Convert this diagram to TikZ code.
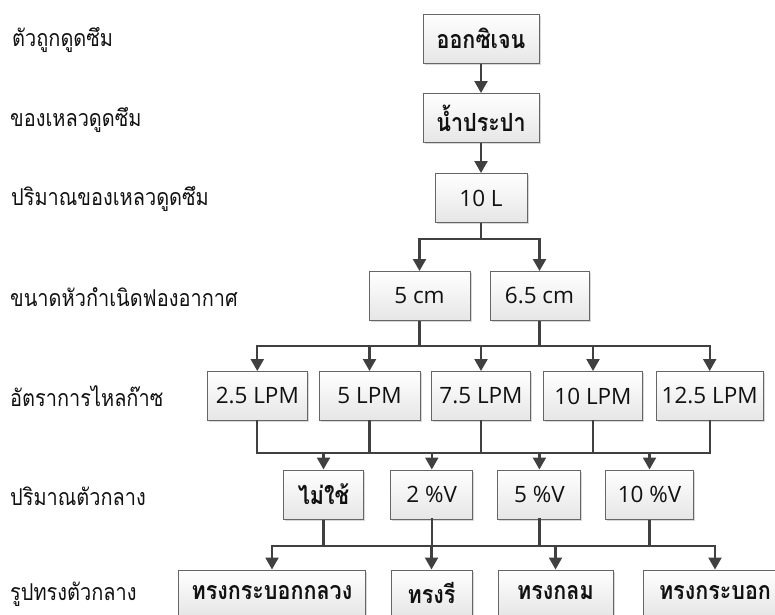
\documentclass[tikz,border=0pt]{standalone}
\usepackage{fontspec}
\setmainfont{Open Sans}
\newfontfamily\thaifont[Script=Thai,FakeStretch=0.86]{Loma}
\usetikzlibrary{arrows.meta,shadows}
\definecolor{linec}{HTML}{404040}
\definecolor{boxb}{HTML}{666666}
\definecolor{boxf}{HTML}{E6E6E6}
\definecolor{txt}{HTML}{111111}
\tikzset{
 box/.style={draw=boxb, line width=1pt, top color=white, bottom color=boxf,
   minimum height=49pt, inner sep=0pt, text=txt,
   drop shadow={shadow xshift=1.5pt, shadow yshift=-1.5pt, fill=black!30, opacity=0.5}},
 lab/.style={anchor=west, inner sep=0pt, text=txt, font=\thaifont\fontsize{23.2}{23.2}\selectfont},
 conn/.style={draw=linec, line width=2.2pt, line cap=rect},
 arr/.style={draw=linec, line width=2.2pt, -{Triangle[width=13pt,length=12pt]}},
 lt/.style={font=\fontsize{22.5}{22.5}\selectfont},
 tb/.style={font=\thaifont\bfseries\fontsize{25}{25}\selectfont},
 lastrow/.style={minimum height=46pt},
}
\begin{document}
\begin{tikzpicture}[x=1pt,y=-1pt]
\useasboundingbox (0,0) rectangle (775,614);
% left labels
\node[lab] (l1) at (12,40) {ตัวถูกดูดซึม};
\node[lab] (l2) at (10,120) {ของเหลวดูดซึม};
\node[lab] (l3) at (11,199) {ปริมาณของเหลวดูดซึม};
\node[lab] (l4) at (10,297) {ขนาดหัวกำเนิดฟองอากาศ};
\node[lab] (l5) at (10,396) {อัตราการไหลก๊าซ};
\node[lab] (l6) at (10,496) {ปริมาณตัวกลาง};
\node[lab] (l7) at (10,594) {รูปทรงตัวกลาง};
% row 1-3
\node[box,tb,minimum width=116pt] (n1) at (481,38.5) {ออกซิเจน};
\node[box,tb,minimum width=116pt] (n2) at (481,118) {น้ำประปา};
\node[box,lt,minimum width=92pt] (n3) at (481,198) {10 L};
% row 4
\node[box,lt,minimum width=101pt] (n4a) at (419.5,296) {5 cm};
\node[box,lt,minimum width=99pt] (n4b) at (539.5,296) {6.5 cm};
% row 5
\node[box,lt,minimum width=100pt] (n5a) at (257.3,396) {2.5 LPM};
\node[box,lt,minimum width=101pt] (n5b) at (369.5,396) {5 LPM};
\node[box,lt,minimum width=99pt] (n5c) at (481,396) {7.5 LPM};
\node[box,lt,minimum width=99pt] (n5d) at (593,396) {10 LPM};
\node[box,lt,minimum width=107pt] (n5e) at (709.7,396) {12.5 LPM};
% row 6
\node[box,tb,minimum width=80pt] (n6a) at (323.5,494.5) {ไม่ใช้};
\node[box,lt,minimum width=82pt] (n6b) at (431.8,494.5) {2 \%V};
\node[box,lt,minimum width=83pt] (n6c) at (539.4,494.5) {5 \%V};
\node[box,lt,minimum width=88pt] (n6d) at (649.5,494.5) {10 \%V};
% row 7
\node[box,tb,lastrow,minimum width=187pt] (n7a) at (272,593) {ทรงกระบอกกลวง};
\node[box,tb,lastrow,minimum width=81pt] (n7b) at (431.5,593) {ทรงรี};
\node[box,tb,lastrow,minimum width=115pt] (n7c) at (555.5,593) {ทรงกลม};
\node[box,tb,lastrow,minimum width=144pt] (n7d) at (715,593) {ทรงกระบอก};
% bus levels
\coordinate (y1) at (0,239);
\coordinate (y2) at (0,346);
\coordinate (y3) at (0,453);
\coordinate (y4) at (0,546);
% connectors
\draw[arr] (n1) -- (n2);
\draw[arr] (n2) -- (n3);
\draw[arr] (n3.south) |- (n4a.north|-y1) -- (n4a.north);
\draw[arr] (n3.south|-y1) -| (n4b.north);
\draw[arr] (n4a.south) |- (n5a.north|-y2) -- (n5a.north);
\draw[arr] (n4b.south) |- (n5e.north|-y2) -- (n5e.north);
\draw[conn] (n4a.south|-y2) -- (n4b.south|-y2);
\draw[arr] (n5b.north|-y2) -- (n5b.north);
\draw[arr] (n5c.north|-y2) -- (n5c.north);
\draw[arr] (n5d.north|-y2) -- (n5d.north);
\draw[conn] (n5a.south) |- (n5e.south|-y3) -- (n5e.south);
\draw[conn] (n5b.south) -- (n5b.south|-y3);
\draw[conn] (n5c.south) -- (n5c.south|-y3);
\draw[conn] (n5d.south) -- (n5d.south|-y3);
\draw[arr] (n6a.north|-y3) -- (n6a.north);
\draw[arr] (n6b.north|-y3) -- (n6b.north);
\draw[arr] (n6c.north|-y3) -- (n6c.north);
\draw[arr] (n6d.north|-y3) -- (n6d.north);
\draw[arr] (n6a.south) |- (n7a.north|-y4) -- (n7a.north);
\draw[arr] (n6d.south) |- (n7d.north|-y4) -- (n7d.north);
\draw[conn] (n7a.north|-y4) -- (n7d.north|-y4);
\draw[conn] (n6b.south) -- (n6b.south|-y4);
\draw[conn] (n6c.south) -- (n6c.south|-y4);
\draw[arr] (n7b.north|-y4) -- (n7b.north);
\draw[arr] (n7c.north|-y4) -- (n7c.north);
\end{tikzpicture}
\end{document}
